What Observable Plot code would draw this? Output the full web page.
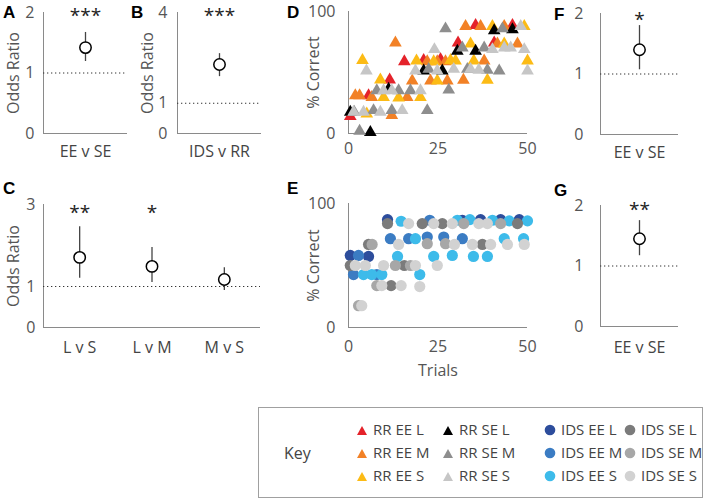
<!DOCTYPE html>
<html>
<head>
<meta charset="utf-8">
<script src="https://cdn.jsdelivr.net/npm/d3@7"></script>
<script src="https://cdn.jsdelivr.net/npm/@observablehq/plot@0.6"></script>
<style>
  body { margin: 0; background: #fff; }
  #fig { position: relative; width: 709px; height: 504px; overflow: hidden; font-family: "Open Sans", "Noto Sans", sans-serif; }
  .panel { position: absolute; }
  .letter { position: absolute; font: bold 17px "Liberation Sans", Arial, sans-serif; color: #000; line-height: 1; }
  #legend { position: absolute; left: 258px; top: 407px; width: 445px; height: 91px; border: 1px solid #a0a0a0; box-sizing: border-box; }
  .litem { position: absolute; display: flex; align-items: center; font-size: 15px; color: #444; white-space: nowrap; line-height: 1; }
  .litem svg { margin-right: 5px; }
</style>
</head>
<body>
<div id="fig"></div>
<script>
// ---------- DATA ----------
// Odds-ratio panels
const catsA = ["EE v SE"], estA = [1.42], loA = [1.19], hiA = [1.67], starsA = ["***"];
const catsB = ["IDS v RR"], estB = [2.28], loB = [1.88], hiB = [2.64], starsB = ["***"];
const catsC = ["L v S", "L v M", "M v S"], estC = [1.71, 1.49, 1.17], loC = [1.2, 1.1, 0.9], hiC = [2.46, 1.95, 1.46], starsC = ["**", "*", ""];
const catsF = ["EE v SE"], estF = [1.40], loF = [1.07], hiF = [1.80], starsF = ["*"];
const catsG = ["EE v SE"], estG = [1.45], loG = [1.17], hiG = [1.75], starsG = ["**"];
const ticksA = [0, 1, 2], ticksB = [0, 1, 4], ticksC = [0, 1, 3], ticksF = [0, 1, 2], ticksG = [0, 1, 2];
const ticksPct = [0, 100], ticksTrials = [0, 25, 50];

// Learning curves: [trial, % correct]
const rrNames = ["RR EE L", "RR EE M", "RR EE S", "RR SE L", "RR SE M", "RR SE S"];
const rrColors = ["#e4222a", "#f28126", "#fcbb15", "#000000", "#8e8e8e", "#c6c6c6"];
const RR_EE_L = [[0.5,14],[5.6,31],[11.5,44],[15.6,58.9],[21,60],[25.7,60.8],[30.6,74.3],[40.7,74.3],[35.5,88.6],[45.8,88.6]];
const RR_EE_M = [[1.9,31],[3.1,31],[6.5,29.7],[12.1,14.9],[13.1,74.3],[16.4,29.7],[17.8,43.2],[22.9,43.2],[27.6,43.2],[32.1,43.8],[22,58.9],[24.8,58.9],[27.1,58.9],[37.9,59.5],[41.6,73.5],[47.2,73.5],[32.7,87.8],[36.9,87.8],[43.5,87.8]];
const RR_EE_S = [[5.1,16.2],[9.8,29.7],[14,29.2],[20.1,29.7],[8.9,44],[24.8,43.2],[38.8,43.8],[3.9,60],[19,59.5],[23.8,58.9],[28.5,60],[29.9,59.5],[35,59.5],[50,59.5],[34.1,73.5],[43.5,73.5],[40.2,87.8],[49.1,87.8]];
const RR_SE_L = [[6.1,1],[0.5,17.6],[11.2,36.5],[21,51.4],[26.2,51.4],[30.4,67.6],[35.5,67.6],[40.7,84.3],[45.8,85.1]];
const RR_SE_M = [[3.1,2],[1.6,17.6],[7,18.9],[12.1,18.9],[22,18.9],[7.9,35.1],[14,35.1],[17.3,35.1],[28,35.7],[22.4,52.7],[33.2,52.7],[38.8,51.9],[42.1,51.4],[31.8,70.3],[37.9,70.3],[27.1,85.9],[43,85.9]];
const RR_SE_S = [[1.4,17.6],[4.2,17.6],[8.9,17.6],[15,18.9],[9.8,35.1],[12.1,35.1],[20.1,35.1],[5,51.4],[18.7,51.4],[24.8,51.4],[29.4,52.7],[34.1,52.7],[36.4,51.9],[50,51.4],[24,68.9],[40.2,68.9],[43.5,70.3],[45.3,70.3],[49.1,68.9],[48.1,87.8]];

const idsNames = ["IDS EE L", "IDS EE M", "IDS EE S", "IDS SE L", "IDS SE M", "IDS SE S"];
const idsColors = ["#2d4d9c", "#3b7cc3", "#3dbbea", "#7b7b7b", "#a7a7a7", "#d2d2d2"];
const IDS_EE_L = [[10.9,87],[31.8,86.5],[36.9,87],[42.5,87],[47.7,87],[0.5,58.1],[5.6,57.3]];
const IDS_EE_M = [[22.7,86.5],[11.7,71.6],[16.8,71.6],[22,73],[26.6,73],[31.8,71.6],[2.8,58.1],[1.4,42.7],[7.9,42.7]];
const IDS_EE_S = [[14.7,85.7],[30.4,86.5],[33.9,87],[40.2,86.5],[44.9,86],[50,86],[18.7,71.6],[43.5,71.6],[48.9,71.6],[13.7,57.3],[23.8,57.3],[29,58.1],[34.9,57.3],[38.8,57.3],[4.2,42.7],[6.5,42.7],[9.3,42.7],[19.9,42.7]];
const IDS_SE_L = [[10.9,83.8],[20.6,83.8],[26.2,83.8],[47.2,83.8],[5.6,67],[37.4,67],[15.6,50],[0.5,50],[11.9,33.8]];
const IDS_SE_M = [[32.2,83.8],[42.5,83.8],[6.6,67],[22,67.6],[27.1,67.6],[13.1,50],[17.3,50],[7.9,33.8],[2.8,17.6]];
const IDS_SE_S = [[16.8,83.8],[23.8,83.8],[29,83.8],[36.4,83.8],[38.8,83.8],[14,67],[29.6,67],[34.6,67],[39.7,67],[44.4,67],[49.1,67],[1.9,50],[4.7,50],[9.8,50],[18.7,50],[24.8,50],[9.3,33.8],[14.7,33.8],[19.9,33],[3.7,17.6]];

// ---------- DRAWING ----------
const FONT = '"Open Sans", "Noto Sans", sans-serif';
const AXIS = "#8a8a8a";
const fig = document.getElementById("fig");

function place(node, left, top) {
  node.classList.add("panel");
  node.style.left = left + "px";
  node.style.top = top + "px";
  fig.appendChild(node);
}

function oddsPanel(o) {
  const n = o.cats.length;
  const rows = o.cats.map((c, i) => ({pos: i + 0.5, est: o.est[i], lo: o.lo[i], hi: o.hi[i], stars: o.stars[i]}));
  const p = Plot.plot({
    width: o.width, height: o.height,
    marginTop: o.mt, marginBottom: o.mb, marginLeft: o.ml, marginRight: o.mr,
    style: {fontFamily: FONT, fontSize: "16px", color: "#555", background: "none", overflow: "visible"},
    x: {domain: [0, n]},
    y: {domain: [0, o.yMax]},
    marks: [
      Plot.ruleX([0], {stroke: AXIS, strokeWidth: 1}),
      Plot.ruleY([0], {stroke: AXIS, strokeWidth: 1}),
      Plot.axisY({ticks: o.yTicks, tickSize: 0, tickPadding: o.yPad, tickFormat: d => String(d),
        fill: "#555", fontSize: 16,
        label: o.ylabel || null, labelAnchor: "center", labelArrow: "none", labelOffset: o.labelOffset}),
      Plot.axisX({ticks: rows.map(r => r.pos), tickFormat: v => o.cats[Math.floor(v)], tickSize: 0, tickPadding: o.xPad,
        fill: "#444", fontSize: 16, label: null}),
      Plot.ruleY([1], {stroke: "#333", strokeDasharray: "1.3 2.7", strokeWidth: 1}),
      Plot.ruleX(rows, {x: "pos", y1: "lo", y2: "hi", stroke: "#444", strokeWidth: 1.3}),
      Plot.dot(rows, {x: "pos", y: "est", r: 5.7, stroke: "#000", fill: "#fff", strokeWidth: 1.5}),
      Plot.text(rows, {x: "pos", y: () => o.yMax, text: "stars", fontSize: 19, fill: "#222", lineAnchor: "middle", dy: o.starDy})
    ]
  });
  place(p, o.left, o.top);
}

function scatterPanel(o) {
  const rows = [];
  o.series.forEach((pts, i) => pts.forEach(([t, v]) => rows.push({trial: t, pct: v, s: o.names[i]})));
  const p = Plot.plot({
    width: o.width, height: o.height,
    marginTop: o.mt, marginBottom: o.mb, marginLeft: o.ml, marginRight: o.mr,
    style: {fontFamily: FONT, fontSize: "16px", color: "#555", background: "none", overflow: "visible"},
    x: {domain: [0, 50]},
    y: {domain: [0, 100]},
    color: {domain: o.names, range: o.colors},
    marks: [
      Plot.ruleX([0], {stroke: AXIS, strokeWidth: 1}),
      Plot.ruleY([0], {stroke: AXIS, strokeWidth: 1}),
      Plot.axisY({ticks: ticksPct, tickSize: 0, tickPadding: 13, fill: "#555", fontSize: 16,
        label: "% Correct", labelAnchor: "center", labelArrow: "none", labelOffset: o.labelOffset}),
      Plot.axisX({ticks: ticksTrials, tickSize: 0, tickPadding: o.xPad, fill: "#555", fontSize: 16,
        label: o.xlabel || null, labelAnchor: "center", labelArrow: "none", labelOffset: o.xLabelOffset}),
      Plot.dot(rows, {x: "trial", y: "pct", fill: "s", symbol: o.symbol, r: o.r, stroke: "none"})
    ]
  });
  place(p, o.left, o.top);
}

oddsPanel({cats: catsA, est: estA, lo: loA, hi: hiA, stars: starsA, yMax: 2, yTicks: ticksA, ylabel: "Odds Ratio",
  left: 0, top: 0, width: 130, height: 170, mt: 12, mb: 37, ml: 43, mr: 3, yPad: 9, xPad: 12, starDy: 3, labelOffset: 36});
oddsPanel({cats: catsB, est: estB, lo: loB, hi: hiB, stars: starsB, yMax: 4, yTicks: ticksB, ylabel: "Odds Ratio",
  left: 132, top: 0, width: 132, height: 170, mt: 12, mb: 37, ml: 45, mr: 3, yPad: 10, xPad: 12, starDy: 3, labelOffset: 36});
oddsPanel({cats: catsC, est: estC, lo: loC, hi: hiC, stars: starsC, yMax: 3, yTicks: ticksC, ylabel: "Odds Ratio",
  left: 0, top: 160, width: 263, height: 210, mt: 44, mb: 43, ml: 43, mr: 3, yPad: 8, xPad: 14, starDy: 8, labelOffset: 36});
oddsPanel({cats: catsF, est: estF, lo: loF, hi: hiF, stars: starsF, yMax: 2, yTicks: ticksF,
  left: 555, top: 0, width: 126, height: 170, mt: 13, mb: 36, ml: 45, mr: 3, yPad: 17, xPad: 12, starDy: 6, labelOffset: 36});
oddsPanel({cats: catsG, est: estG, lo: loG, hi: hiG, stars: starsG, yMax: 2, yTicks: ticksG,
  left: 555, top: 170, width: 126, height: 200, mt: 35, mb: 44, ml: 45, mr: 3, yPad: 17, xPad: 15, starDy: 4, labelOffset: 36});

scatterPanel({series: [RR_EE_L, RR_EE_M, RR_EE_S, RR_SE_L, RR_SE_M, RR_SE_S], names: rrNames, colors: rrColors,
  symbol: "triangle", r: 4.7, left: 280, top: 0, width: 250, height: 170, mt: 11, mb: 37, ml: 68, mr: 3, xPad: 9, labelOffset: 41});
scatterPanel({series: [IDS_EE_L, IDS_EE_M, IDS_EE_S, IDS_SE_L, IDS_SE_M, IDS_SE_S], names: idsNames, colors: idsColors,
  symbol: "circle", r: 5.6, left: 280, top: 170, width: 250, height: 210, mt: 33, mb: 53, ml: 68, mr: 3, xPad: 13, labelOffset: 41,
  xlabel: "Trials", xLabelOffset: 48});

// Panel letters
[["A", 3, 4], ["B", 131, 4], ["C", 3, 180], ["D", 287, 4], ["E", 287, 180], ["F", 554, 6], ["G", 554, 182]].forEach(([t, x, y]) => {
  const d = document.createElement("div");
  d.className = "letter"; d.textContent = t; d.style.left = x + "px"; d.style.top = y + "px";
  fig.appendChild(d);
});

// Legend (Key)
const legend = document.createElement("div");
legend.id = "legend";
fig.appendChild(legend);
const key = document.createElement("div");
key.className = "litem"; key.textContent = "Key"; key.style.left = "25px"; key.style.top = "37px"; key.style.fontSize = "16px";
legend.appendChild(key);
const colX = [103, 189, 291, 371];
const rowY = [22, 45, 68];
function marker(symbol, color) {
  const ns = "http://www.w3.org/2000/svg";
  const svg = document.createElementNS(ns, "svg");
  svg.setAttribute("width", 12); svg.setAttribute("height", 12);
  const sh = document.createElementNS(ns, symbol === "triangle" ? "polygon" : "circle");
  if (symbol === "triangle") sh.setAttribute("points", "1,11 11,11 6,2");
  else { sh.setAttribute("cx", 6); sh.setAttribute("cy", 6); sh.setAttribute("r", 5.3); }
  sh.setAttribute("fill", color);
  svg.appendChild(sh);
  return svg;
}
const groups = [[rrNames, rrColors, "triangle"], [idsNames, idsColors, "circle"]];
groups.forEach(([names, colors, sym], g) => {
  names.forEach((nm, i) => {
    const c = g * 2 + Math.floor(i / 3), r = i % 3;
    const it = document.createElement("div");
    it.className = "litem";
    it.style.left = (colX[c] - 6) + "px";
    it.style.top = (rowY[r] - 8) + "px";
    it.appendChild(marker(sym, colors[i]));
    const sp = document.createElement("span"); sp.textContent = nm;
    it.appendChild(sp);
    legend.appendChild(it);
  });
});
</script>
</body>
</html>
